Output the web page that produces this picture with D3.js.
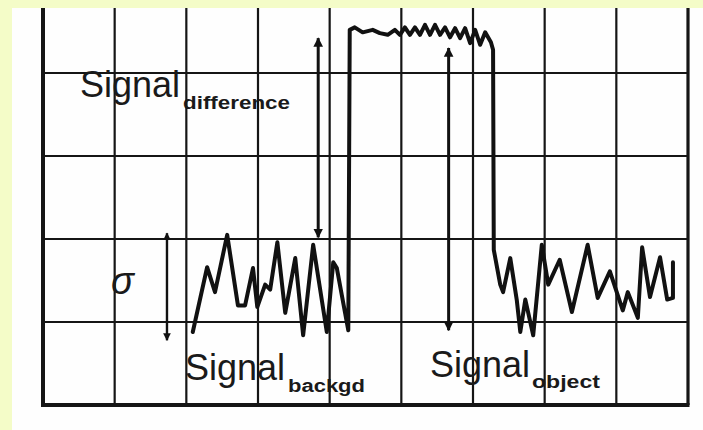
<!DOCTYPE html>
<html>
<head>
<meta charset="utf-8">
<script src="https://cdn.jsdelivr.net/npm/d3@7"></script>
<style>
  body { margin: 0; background: #f4fcc8; }
  svg { display: block; }
  text { font-family: "Liberation Sans", Arial, sans-serif; fill: #1a1a1a; }
</style>
</head>
<body>
<div id="chart"></div>
<script>
// grid divisions (x in columns, y in rows)
var xDivs = [0, 1, 2, 3, 4, 5, 6, 7, 8, 9];
var yDivs = [1, 2, 3, 4];

// scope trace in grid units
var traceX = [2.09, 2.29, 2.40, 2.57, 2.72, 2.82, 2.93, 2.99, 3.10, 3.17, 3.27, 3.38, 3.52, 3.63, 3.77, 3.96, 4.05, 4.10, 4.26,
  4.28, 4.35, 4.46, 4.60, 4.70, 4.81, 4.91, 4.98, 5.05, 5.12, 5.19, 5.26, 5.33, 5.40, 5.47, 5.54, 5.61, 5.68, 5.75, 5.82, 5.89, 5.96, 6.03, 6.10, 6.17, 6.25, 6.28,
  6.29, 6.38, 6.42, 6.52, 6.61, 6.66, 6.73, 6.84, 6.96, 7.05, 7.21, 7.38, 7.60, 7.74, 7.91, 8.09, 8.16, 8.30, 8.36, 8.47, 8.61, 8.71, 8.79, 8.79];
var traceY = [0.88, 1.66, 1.36, 2.05, 1.20, 1.20, 1.65, 1.18, 1.45, 1.39, 1.96, 1.11, 1.77, 0.84, 1.93, 0.88, 1.72, 1.65, 0.90,
  4.52, 4.55, 4.49, 4.52, 4.48, 4.46, 4.52, 4.46, 4.55, 4.46, 4.55, 4.46, 4.58, 4.46, 4.58, 4.46, 4.55, 4.43, 4.54, 4.42, 4.54, 4.36, 4.52, 4.34, 4.49, 4.37, 4.28,
  1.87, 1.45, 1.36, 1.77, 1.27, 0.88, 1.27, 0.84, 1.93, 1.45, 1.75, 1.12, 1.93, 1.29, 1.61, 1.14, 1.36, 1.05, 1.90, 1.30, 1.78, 1.27, 1.29, 1.72];

// double arrows: [x, yFrom, yTo]
var arrowNames = ["sigma", "difference", "object"];
var arrowX = [1.73, 3.84, 5.66];
var arrowTop = [2.07, 4.42, 4.30];
var arrowBottom = [0.78, 2.02, 0.90];

var width = 703, height = 430;
var x = d3.scaleLinear().domain([0, 9]).range([43, 688]);
var y = d3.scaleLinear().domain([0, 4]).range([405, 73]);
var yTop = y.invert(8);

var svg = d3.select("#chart").append("svg")
  .attr("width", width)
  .attr("height", height);

// white paper
svg.append("rect")
  .attr("x", 12).attr("y", 8)
  .attr("width", width - 12).attr("height", height - 8)
  .attr("fill", "#fefefe");

var defs = svg.append("defs");
defs.append("marker")
  .attr("id", "head")
  .attr("viewBox", "0 0 10 10")
  .attr("refX", 9).attr("refY", 5)
  .attr("markerWidth", 3.2).attr("markerHeight", 3.6)
  .attr("markerUnits", "strokeWidth")
  .attr("orient", "auto-start-reverse")
  .append("path")
  .attr("d", "M0,0L10,5L0,10Z")
  .attr("fill", "#111");

// grid
var grid = svg.append("g").attr("stroke", "#151515");
grid.selectAll(".vline").data(xDivs).enter().append("line")
  .attr("class", "vline")
  .attr("x1", function(d) { return x(d); })
  .attr("x2", function(d) { return x(d); })
  .attr("y1", y(yTop))
  .attr("y2", y(0))
  .attr("stroke-width", function(d) { return d === 0 ? 4 : (d === 9 ? 3.2 : 2.2); });

grid.selectAll(".hline").data(yDivs).enter().append("line")
  .attr("class", "hline")
  .attr("x1", x(0)).attr("x2", x(9))
  .attr("y1", function(d) { return y(d); })
  .attr("y2", function(d) { return y(d); })
  .attr("stroke-width", 2.2);

grid.append("line")
  .attr("x1", x(0) - 2).attr("x2", x(9) + 1.5)
  .attr("y1", y(0)).attr("y2", y(0))
  .attr("stroke-width", 4);

// the trace
var pts = traceX.map(function(d, i) { return [d, traceY[i]]; });
var line = d3.line()
  .x(function(d) { return x(d[0]); })
  .y(function(d) { return y(d[1]); });

svg.append("path")
  .datum(pts)
  .attr("d", line)
  .attr("fill", "none")
  .attr("stroke", "#111")
  .attr("stroke-width", 4)
  .attr("stroke-linejoin", "round")
  .attr("stroke-linecap", "round");

// arrows
svg.selectAll(".arrow").data(arrowNames).enter().append("line")
  .attr("class", "arrow")
  .attr("x1", function(d, i) { return x(arrowX[i]); })
  .attr("x2", function(d, i) { return x(arrowX[i]); })
  .attr("y1", function(d, i) { return y(arrowTop[i]); })
  .attr("y2", function(d, i) { return y(arrowBottom[i]); })
  .attr("stroke", "#111")
  .attr("stroke-width", function(d) { return d === "sigma" ? 2.4 : 3; })
  .attr("marker-start", "url(#head)")
  .attr("marker-end", "url(#head)");

// labels
function label(px, py, main, sub, subGap, subDrop, subLen) {
  var t = svg.append("text").attr("x", px).attr("y", py)
    .attr("font-size", 36).text(main);
  var s = svg.append("text")
    .attr("x", px + 102 + subGap).attr("y", py + subDrop)
    .attr("font-size", 18)
    .attr("font-weight", "bold")
    .attr("textLength", subLen)
    .attr("lengthAdjust", "spacingAndGlyphs")
    .text(sub);
}
label(80, 97, "Signal", "difference", 1, 12, 107);
label(185, 380, "Signal", "backgd", 1, 12, 77);
label(430, 377, "Signal", "object", 0, 11, 68);

svg.append("text")
  .attr("x", 111).attr("y", 294)
  .attr("font-family", "DejaVu Sans")
  .attr("font-style", "italic")
  .attr("font-size", 38)
  .text("σ");
</script>
</body>
</html>
